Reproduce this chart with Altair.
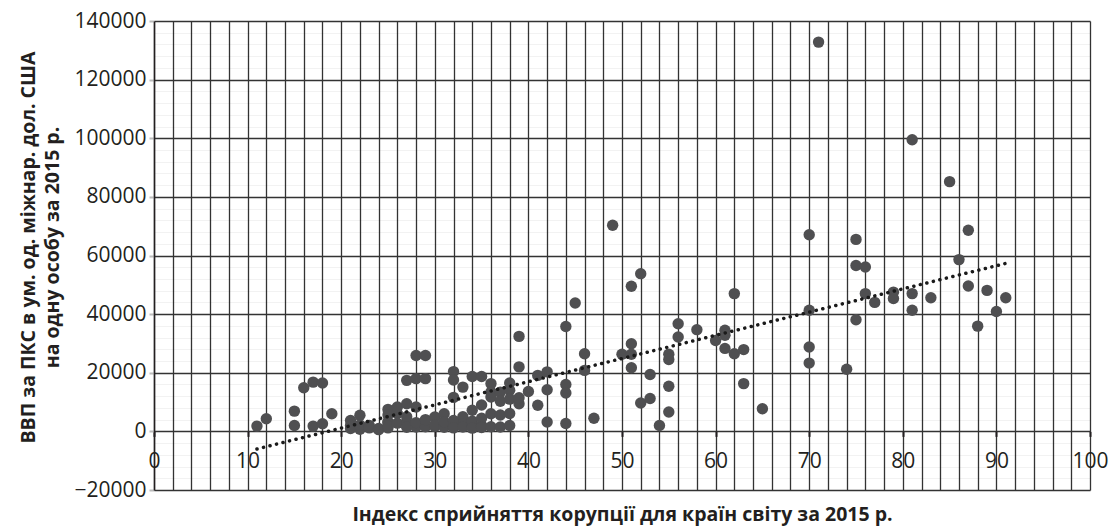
import altair as alt
import pandas as pd

# Corruption Perception Index 2015 (x) vs GDP PPP per capita 2015 (y)
cpi = [11, 12, 15, 15, 16, 17, 17, 18, 18, 19,
       21, 21, 21, 22, 22, 22, 22, 23, 23, 24, 24,
       25, 25, 25, 25, 25, 25, 26, 26, 26,
       27, 27, 27, 27, 27, 28, 28, 28, 28, 28,
       29, 29, 29, 29, 30, 30, 30, 31, 31, 31,
       32, 32, 32, 32, 32, 32, 33, 33, 33, 33,
       34, 34, 34, 34, 34, 35, 35, 35, 35, 35,
       36, 36, 36, 36, 36, 37, 37, 37, 37,
       38, 38, 38, 38, 38, 39, 39, 39, 39,
       40, 41, 41, 42, 42, 42, 44, 44, 44, 44,
       45, 46, 46, 47, 49, 50, 51, 51, 51, 51,
       52, 52, 53, 53, 54, 55, 55, 55, 55, 56, 56,
       58, 60, 61, 61, 61, 62, 62, 63, 63, 65,
       70, 70, 70, 70, 71, 74, 75, 75, 75, 76, 76,
       77, 79, 79, 81, 81, 81, 83, 85, 86, 87, 87,
       88, 89, 90, 91]
gdp = [1800, 4300, 6900, 2000, 14900, 16800, 1800, 16500, 2600, 6000,
       3700, 1000, 2000, 5500, 1500, 700, 2200, 2000, 1200, 1000, 600,
       7500, 3300, 1200, 3000, 1800, 5600, 6100, 8300, 2800,
       9400, 17400, 3100, 5000, 1400, 8300, 18000, 25900, 1500, 3000,
       18000, 25900, 1600, 4000, 4900, 1700, 2200, 6000, 1400, 3300,
       20400, 17500, 11600, 1800, 3700, 1200, 15100, 5000, 2500, 1500,
       18700, 7200, 2000, 3500, 1100, 18700, 9000, 2000, 4500, 1300,
       16300, 11700, 13400, 6000, 1600, 1500, 13400, 10300, 5600,
       16500, 14000, 6100, 2000, 11000, 32400, 22000, 9400, 11500,
       13600, 19100, 8900, 20300, 14200, 3200, 35800, 16000, 13100, 2700,
       43800, 26500, 20800, 4500, 70300, 26300, 49500, 29900, 26300, 21700,
       53800, 9700, 19400, 11200, 2000, 26300, 24500, 15400, 6600, 36700, 32200,
       34700, 31000, 34500, 32800, 28300, 47000, 26500, 27900, 16300, 7700,
       67100, 41300, 28800, 23300, 132800, 21200, 65500, 56600, 38100, 56100, 47000,
       44000, 47500, 45300, 99500, 47000, 41300, 45600, 85200, 58600, 68600, 49600,
       35900, 48100, 40900, 45600]

# dotted linear trend line, end points
trend_cpi = [11, 91]
trend_gdp = [-6000, 57300]

y_ticks = [-20000, 0, 20000, 40000, 60000, 80000, 100000, 120000, 140000]
x_labels = [0, 10, 20, 30, 40, 50, 60, 70, 80, 90, 100]
x_grid = list(range(0, 101, 2))
y_minor = [v for v in range(-20000, 140001, 4000) if v % 20000 != 0]

x_title = "Індекс сприйняття корупції для країн світу за 2015 р."
y_title = ["ВВП за ПКС в ум. од. міжнар. дол. США", "на одну особу за 2015 р."]

points_df = pd.DataFrame({"cpi": cpi, "gdp": gdp})
trend_df = pd.DataFrame({"cpi": trend_cpi, "gdp": trend_gdp})

FONT = "Open Sans"
INK = "#231f20"
GRID = "#333333"
LEFT, TOP = 146, 13
W, H = 936, 469
SVG_W, SVG_H = 1101, 519

xscale = alt.Scale(domain=[0, 100], nice=False, zero=False)
yscale = alt.Scale(domain=[-20000, 140000], nice=False, zero=False)

points = alt.Chart(points_df).mark_circle(size=130, color="#4f4f51", opacity=1).encode(
    x=alt.X("cpi:Q", scale=xscale, axis=alt.Axis(
        orient="bottom", values=x_labels, offset=-H / 8, grid=False, domain=False,
        ticks=True, tickSize=5, tickWidth=2, tickColor=INK,
        labelPadding=14, labelFont=FONT, labelFontSize=21, labelColor=INK,
        labelFlush=False, labelOverlap=False, format="d",
        title=x_title, titleFont=FONT, titleFontSize=19.5, titleFontWeight="bold",
        titleColor=INK, titleX=W / 2, titleY=89, titleAlign="center",
        titleBaseline="alphabetic")),
    y=alt.Y("gdp:Q", scale=yscale, axis=alt.Axis(
        orient="left", values=y_ticks, grid=True, gridColor=GRID, gridWidth=1.3,
        domain=True, domainColor=INK, domainWidth=1.5,
        ticks=True, tickSize=5, tickWidth=2, tickColor="#bbbbbb",
        labelPadding=3, labelFont=FONT, labelFontSize=21, labelColor=INK,
        labelOverlap=False, labelFlush=False, format="d",
        title=y_title, titleFont=FONT, titleFontSize=19.5, titleFontWeight="bold",
        titleColor=INK, titleX=-116, titleY=226, titleAlign="center",
        titleBaseline="bottom", titleAngle=270, titleLineHeight=24)),
)

trend = alt.Chart(trend_df).mark_line(
    color="#1a1a1a", strokeWidth=3.5, strokeDash=[0.1, 6.6], strokeCap="round"
).encode(
    x=alt.X("cpi:Q", scale=xscale, axis=alt.Axis(
        orient="top", values=x_grid, grid=True, gridColor=GRID, gridWidth=1.3,
        domain=False, ticks=False, labels=False, title=None)),
    y=alt.Y("gdp:Q", scale=yscale, axis=alt.Axis(
        orient="right", values=y_minor, grid=True, gridColor="#000000",
        gridOpacity=0.05, gridWidth=1, domain=False, ticks=False, labels=False,
        title=None)),
)

chart = alt.layer(points, trend).resolve_axis(
    x="independent", y="independent"
).properties(
    width=W, height=H,
    padding={"left": LEFT, "top": TOP, "right": SVG_W - LEFT - W,
             "bottom": SVG_H - TOP - H},
    autosize=alt.AutoSizeParams(type="none"),
    background="white",
).configure_view(stroke=None)

chart.save("out.html", embed_options={"renderer": "svg", "actions": False})
